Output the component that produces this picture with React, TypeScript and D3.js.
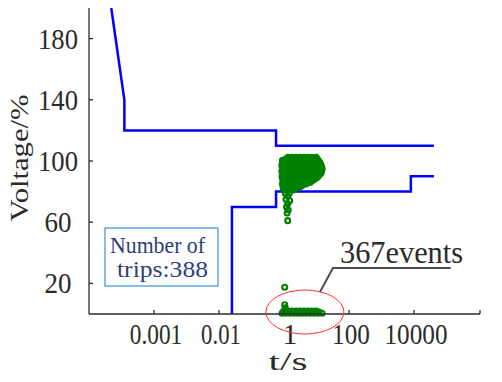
import React from "react";
import * as d3 from "d3";

// ---- data ----
const xTickValues = [0.001, 0.01, 1, 100, 10000];
const xTickLabels = ["0.001", "0.01", "1", "100", "10000"];
const yTickValues = [20, 60, 100, 140, 180];

// ITIC-like tolerance curves (t in s, voltage in %)
const upperT = [2.2e-4, 3.5e-4, 3.5e-4, 0.57, 0.57, 4e4];
const upperV = [200, 140, 120, 120, 110, 110];
const lowerT = [0.025, 0.025, 0.57, 0.57, 8000, 8000, 4e4];
const lowerV = [0, 70, 70, 80, 80, 90, 90];

// dense cluster of trip events (rows of equal voltage)
const clusterV = [
  102.5, 101.5, 100.5, 99.6, 98.7, 97.7, 96.7, 95.8, 94.8, 93.8, 92.8, 91.8,
  90.8, 89.9, 88.9, 87.9, 86.9, 86, 85, 84, 83, 82, 81, 79,
];
const clusterT = [
  [1.33, 1.76, 2.34, 3.1, 4.1, 5.5, 7.2, 9.7],
  [1.15, 1.53, 2.03, 2.7, 3.6, 4.7, 6.3, 8.4, 10.5],
  [0.9, 1.15, 1.53, 2.03, 2.7, 3.6, 4.7, 6.3, 8.4, 11.1],
  [0.93, 1.25, 1.65, 2.2, 2.9, 3.9, 5.1, 6.8, 9, 12],
  [1.0, 1.33, 1.76, 2.34, 3.1, 4.1, 5.5, 7.2, 9.7, 12.8],
  [0.87, 1.15, 1.53, 2.03, 2.7, 3.6, 4.7, 6.3, 8.4, 11.1, 13.5],
  [0.87, 1.15, 1.53, 2.03, 2.7, 3.6, 4.7, 6.3, 8.4, 11.1, 14],
  [0.93, 1.25, 1.65, 2.2, 2.9, 3.9, 5.1, 6.8, 9, 12, 14.5],
  [1.0, 1.33, 1.76, 2.34, 3.1, 4.1, 5.5, 7.2, 9.7, 12.8, 14.8],
  [0.87, 1.15, 1.53, 2.03, 2.7, 3.6, 4.7, 6.3, 8.4, 11.1, 14.5],
  [0.87, 1.15, 1.53, 2.03, 2.7, 3.6, 4.7, 6.3, 8.4, 11.1, 14],
  [0.93, 1.25, 1.65, 2.2, 2.9, 3.9, 5.1, 6.8, 9, 12, 13.5],
  [1.0, 1.33, 1.76, 2.34, 3.1, 4.1, 5.5, 7.2, 9.7, 12],
  [0.87, 1.15, 1.53, 2.03, 2.7, 3.6, 4.7, 6.3, 8.4, 11],
  [0.9, 1.15, 1.53, 2.03, 2.7, 3.6, 4.7, 6.3, 8.4, 10],
  [0.93, 1.25, 1.65, 2.2, 2.9, 3.9, 5.1, 6.8, 8.5],
  [1.0, 1.33, 1.76, 2.34, 3.1, 4.1, 5.5, 7.2],
  [0.93, 1.25, 1.65, 2.2, 2.9, 3.9, 5.1, 6.3],
  [0.9, 1.15, 1.53, 2.03, 2.7, 3.6, 4.7],
  [0.93, 1.25, 1.65, 2.2, 2.9, 3.6],
  [1.0, 1.33, 1.76, 2.34, 3.1],
  [0.95, 1.25, 1.65, 2.2],
  [1.05, 1.4, 1.9],
  [1.1, 1.45],
];
// sparse tail below the cluster
const tailT = [1.3, 1.15, 1.5, 1.3, 1.2, 1.35, 1.25, 1.3];
const tailV = [77, 75, 74, 72, 70, 68, 66, 61];
// near-zero voltage events (367 events)
const lowV = [2, 1.2, 0.5];
const lowT = [
  [1.0, 1.33, 1.76, 2.34, 3.1, 4.1, 5.5, 7.2, 9.7],
  [0.93, 1.25, 1.65, 2.2, 2.9, 3.9, 5.1, 6.8, 9, 12],
  [0.87, 1.15, 1.53, 2.03, 2.7, 3.6, 4.7, 6.3, 8.4, 11.1, 14.8],
];
const lowExtraT = [1.05, 1.1, 1.05];
const lowExtraV = [6, 4, 17.5];

const boxLines = ["Number of", "trips:388"];
const eventLabel = "367events";
const xTitle = "t/s";
const yTitle = "Voltage/%";

export default function App() {
  const W = 502, H = 382;
  const x = d3
    .scaleLog()
    .domain([1e-4, 1e-3, 1e-2, 1, 100, 1e4, 1e6])
    .range([89, 154, 219, 284, 349, 414, 480]);
  const y = d3.scaleLinear().domain([0, 200]).range([314, 8]);

  const line = d3
    .line<[number, number]>()
    .x((d) => x(d[0]))
    .y((d) => y(d[1]));

  const upper = line(upperT.map((t, i) => [t, upperV[i]] as [number, number])) || "";
  const lower = line(lowerT.map((t, i) => [t, lowerV[i]] as [number, number])) || "";

  const pts: [number, number][] = [];
  clusterV.forEach((v, i) => clusterT[i].forEach((t) => pts.push([t, v])));
  tailT.forEach((t, i) => pts.push([t, tailV[i]]));
  lowV.forEach((v, i) => lowT[i].forEach((t) => pts.push([t, v])));
  lowExtraT.forEach((t, i) => pts.push([t, lowExtraV[i]]));

  const serif = "Liberation Serif";
  const axisColor = "#2b2b2b";
  const x0 = 89, y0 = 314, xEnd = 480, yTop = 8;

  // annotation anchors in data coords
  const ellC = [x(4.4), y(1.3)];
  const annoP1 = [x(12.8), y(14.4)];
  const annoP2 = [x(32), y(30)];
  const annoP3 = [x(1.3e5), y(30)];

  return (
    <svg
      width={W}
      height={H}
      style={{ position: "absolute", left: 0, top: 0, background: "#fff" }}
    >
      {/* tolerance curves */}
      <path d={upper} fill="none" stroke="#0000ff" strokeWidth={2.5} />
      <path d={lower} fill="none" stroke="#0000ff" strokeWidth={2.5} />

      {/* events */}
      <g fill="none" stroke="#008000" strokeWidth={2.1}>
        {pts.map((p, i) => (
          <circle key={i} cx={x(p[0])} cy={y(p[1])} r={2.5} />
        ))}
      </g>

      {/* axes */}
      <g stroke={axisColor} strokeWidth={1.3} fill="none">
        <line x1={x0} y1={yTop} x2={x0} y2={y0} />
        <line x1={x0} y1={y0} x2={xEnd} y2={y0} />
        {yTickValues.map((v) => (
          <line key={"yt" + v} x1={x0} x2={x0 + 4} y1={y(v)} y2={y(v)} />
        ))}
        {xTickValues.map((t) => (
          <line key={"xt" + t} x1={x(t)} x2={x(t)} y1={y0} y2={y0 - 4} />
        ))}
        <line x1={xEnd} x2={xEnd} y1={y0} y2={y0 - 4} />
      </g>

      {/* y tick labels */}
      <g fontFamily={serif} fontSize={29} fill={axisColor} textAnchor="middle">
        {yTickValues.map((v) => (
          <text
            key={"yl" + v}
            x={58}
            y={y(v) + 10}
            textLength={String(v).length === 3 ? 40 : 27}
            lengthAdjust="spacingAndGlyphs"
          >
            {v}
          </text>
        ))}
      </g>

      {/* x tick labels */}
      <g fontFamily={serif} fontSize={30} fill={axisColor} textAnchor="middle">
        {xTickValues.map((t, i) => {
          const lab = xTickLabels[i];
          const digits = lab.replace(".", "").length;
          const len = digits * 12.6 + (lab.includes(".") ? 2 : 0);
          return (
            <text
              key={"xl" + t}
              x={x(t) + (lab === "1" ? 6 : 2)}
              y={344}
              {...(digits > 1 ? { textLength: len, lengthAdjust: "spacingAndGlyphs" } : {})}
            >
              {lab}
            </text>
          );
        })}
      </g>

      {/* axis titles */}
      <text
        x={288}
        y={370}
        fontFamily={serif}
        fontSize={26}
        fill={axisColor}
        textAnchor="middle"
        textLength={39}
        lengthAdjust="spacingAndGlyphs"
      >
        {xTitle}
      </text>
      <text
        transform="translate(28,158) rotate(-90)"
        fontFamily={serif}
        fontSize={26}
        fill={axisColor}
        textAnchor="middle"
        textLength={127}
        lengthAdjust="spacingAndGlyphs"
      >
        {yTitle}
      </text>

      {/* info box */}
      <rect x={105} y={228} width={113} height={58} fill="#fff" stroke="#3f8fd2" strokeWidth={1.2} />
      <g fontFamily={serif} fontSize={23} fill="#2b3f7d">
        <text x={110} y={253} textLength={95} lengthAdjust="spacingAndGlyphs">
          {boxLines[0]}
        </text>
        <text x={117} y={277} textLength={91} lengthAdjust="spacingAndGlyphs">
          {boxLines[1]}
        </text>
      </g>

      {/* annotation */}
      <ellipse cx={ellC[0]} cy={ellC[1]} rx={39} ry={22} fill="none" stroke="#ff3030" strokeWidth={1} />
      <polyline
        points={`${annoP1[0]},${annoP1[1]} ${annoP2[0]},${annoP2[1]} ${annoP3[0]},${annoP3[1]}`}
        fill="none"
        stroke="#4d4d4d"
        strokeWidth={2}
      />
      <text
        x={340}
        y={263}
        fontFamily={serif}
        fontSize={31}
        fill={axisColor}
        textLength={123}
        lengthAdjust="spacingAndGlyphs"
      >
        {eventLabel}
      </text>
    </svg>
  );
}
